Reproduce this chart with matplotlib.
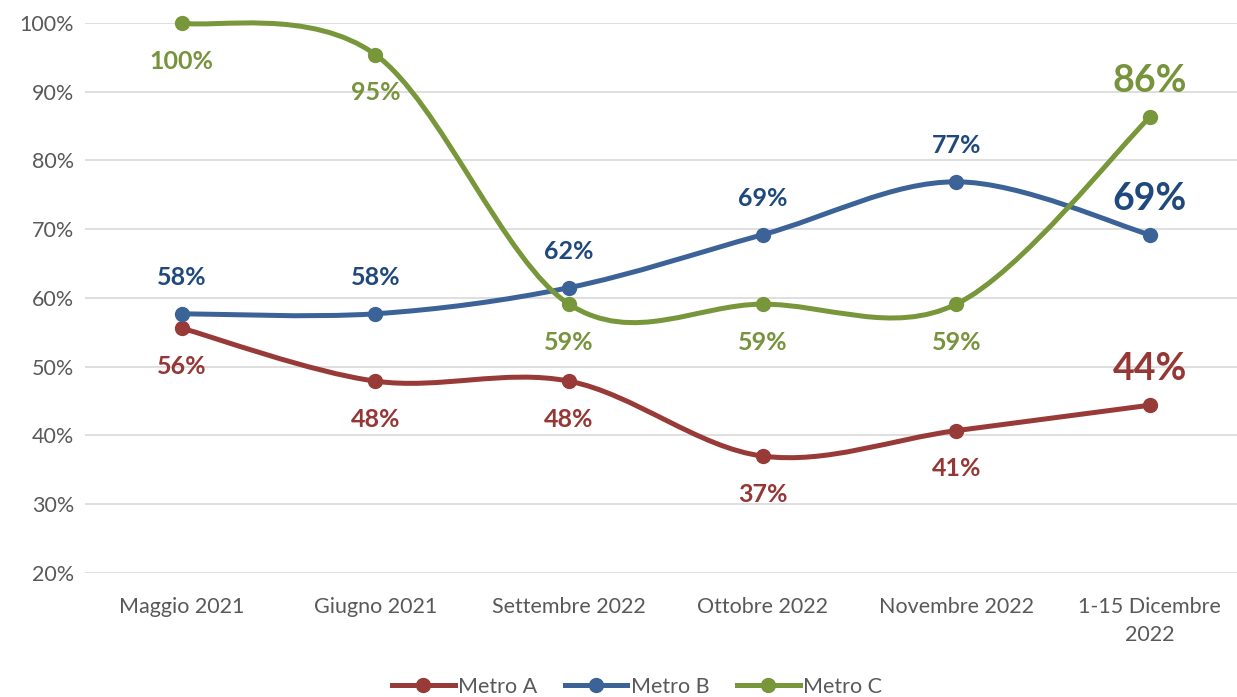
#!/usr/bin/env python3
"""Andamento Metro A/B/C - linee smussate stile Excel."""
import matplotlib
matplotlib.use("Agg")
import matplotlib.pyplot as plt
from matplotlib.path import Path
from matplotlib.patches import PathPatch
from matplotlib.lines import Line2D
from matplotlib.ticker import FuncFormatter

categories = ["Maggio 2021", "Giugno 2021", "Settembre 2022", "Ottobre 2022",
              "Novembre 2022", "1-15 Dicembre\n2022"]
metro_a = [55.6, 47.9, 47.9, 37.0, 40.7, 44.4]
metro_b = [57.7, 57.7, 61.5, 69.2, 76.9, 69.2]
metro_c = [100.0, 95.4, 59.1, 59.1, 59.1, 86.3]
series_names = ["Metro A", "Metro B", "Metro C"]

LINE = {"Metro A": "#983A38", "Metro B": "#3B6398", "Metro C": "#78963A"}
LABEL = {"Metro A": "#953735", "Metro B": "#1F497D", "Metro C": "#77933C"}
# label position per point: +1 above, -1 below
SIDE = {
    "Metro A": [-1, -1, -1, -1, -1, 1],
    "Metro B": [1, 1, 1, 1, 1, 1],
    "Metro C": [-1, -1, -1, -1, -1, 1],
}
GRID = "#D9D9D9"
TICK = "#595959"

plt.rcParams["font.family"] = ["Lato", "DejaVu Sans"]


def smooth_path(xs, ys):
    # Bezier con tensione 1/6 come le linee smussate di Excel
    pts = list(zip(xs, ys))
    verts = [pts[0]]
    codes = [Path.MOVETO]
    n = len(pts)
    for i in range(n - 1):
        p0 = pts[i - 1] if i > 0 else pts[i]
        p1 = pts[i]
        p2 = pts[i + 1]
        p3 = pts[i + 2] if i + 2 < n else pts[i + 1]
        c1 = (p1[0] + (p2[0] - p0[0]) / 6, p1[1] + (p2[1] - p0[1]) / 6)
        c2 = (p2[0] - (p3[0] - p1[0]) / 6, p2[1] - (p3[1] - p1[1]) / 6)
        verts += [c1, c2, p2]
        codes += [Path.CURVE4] * 3
    return Path(verts, codes)


fig = plt.figure(figsize=(12.37, 6.97), dpi=100)
ax = fig.add_axes([0.0687, 0.178, 0.9313, 0.789])
x = list(range(len(categories)))

for name, vals in zip(series_names, [metro_a, metro_b, metro_c]):
    col = LINE[name]
    ax.add_patch(PathPatch(smooth_path(x, vals), facecolor="none", edgecolor=col,
                           lw=3.6, capstyle="round", joinstyle="round", zorder=3,
                           clip_on=False))
    ax.plot(x, vals, ls="none", marker="o", ms=10, color=col, zorder=4, clip_on=False)
    for i, v in enumerate(vals):
        last = i == len(vals) - 1
        side = SIDE[name][i]
        off = 36 if side > 0 else 38
        ax.annotate(f"{v:.0f}%", (i, v), xytext=(0, side * off),
                    textcoords="offset pixels",
                    ha="center", va="center", fontsize=27 if last else 18,
                    fontweight="bold", color=LABEL[name], zorder=5)

ax.set_xlim(-0.5, 5.45)
ax.set_ylim(20, 100)
ax.set_yticks(range(20, 101, 10))
ax.yaxis.set_major_formatter(FuncFormatter(lambda v, _: f"{v:.0f}%"))
ax.set_xticks(x)
ax.set_xticklabels(categories, linespacing=1.55)
ax.grid(axis="y", color=GRID, lw=1.2)
ax.set_axisbelow(True)
for s in ax.spines.values():
    s.set_visible(False)
ax.tick_params(axis="both", length=0, labelsize=15.5, colors=TICK)
ax.tick_params(axis="x", pad=17)
ax.tick_params(axis="y", pad=8)

handles = [Line2D([], [], color=LINE[n], lw=3.6, marker="o", ms=10) for n in series_names]
fig.legend(handles, series_names, loc="center", bbox_to_anchor=(0.515, 0.015),
           ncol=3, frameon=False, fontsize=15.5, labelcolor=TICK, handlelength=2.9,
           handletextpad=0.15, columnspacing=1.3)

fig.savefig("out.png", dpi=100, facecolor="white")
